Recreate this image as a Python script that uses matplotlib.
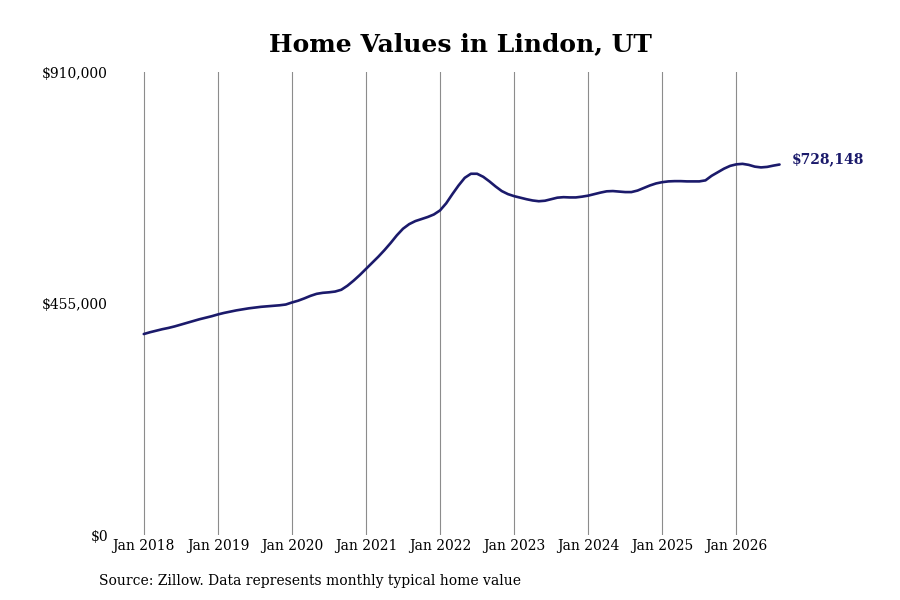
import numpy as np
from matplotlib import pyplot as plt

# typical home value, monthly, Jan 2018 .. Aug 2026
values_2018 = [395000, 398500, 401500, 404500, 407000, 410000, 413500, 417000, 420500, 424000, 427000, 430000]
values_2019 = [433500, 436500, 439000, 441500, 443500, 445500, 447000, 448500, 449500, 450500, 451500, 453000]
values_2020 = [457000, 460500, 465000, 470000, 474000, 476000, 477000, 478500, 482000, 490000, 500000, 511000]
values_2021 = [523000, 535000, 547000, 560000, 574000, 589000, 602000, 611000, 617000, 621000, 625000, 630000]
values_2022 = [638000, 652000, 670000, 687000, 702000, 710000, 710000, 704000, 695000, 685000, 676000, 670000]
values_2023 = [666000, 663000, 660000, 657500, 656000, 657000, 660000, 663000, 664000, 663500, 663500, 665000]
values_2024 = [667000, 670000, 673000, 675500, 676000, 675000, 674000, 674000, 677000, 682000, 687000, 691000]
values_2025 = [693500, 695000, 695500, 695500, 695000, 695000, 695000, 697000, 706000, 713000, 720000, 725500]
values_2026 = [728500, 729500, 727500, 724000, 722500, 723500, 726000, 728148]

values = (values_2018 + values_2019 + values_2020 + values_2021 + values_2022 +
          values_2023 + values_2024 + values_2025 + values_2026)
months = np.arange(len(values))

tick_labels = ['Jan 2018', 'Jan 2019', 'Jan 2020', 'Jan 2021', 'Jan 2022',
               'Jan 2023', 'Jan 2024', 'Jan 2025', 'Jan 2026']
y_ticks = [0, 455000, 910000]
y_labels = ['$0', '$455,000', '$910,000']

line_color = '#1b1a6b'

plt.rcParams['font.family'] = 'DejaVu Serif'

fig = plt.figure(figsize=(9, 6), dpi=100)
ax = fig.add_axes([0.133, 0.1083, 0.74, 0.7717])

ax.plot(months, values, color=line_color, linewidth=1.9, solid_capstyle='round')

ax.set_xlim(-3.9, 104)
ax.set_ylim(0, 910000)
ax.set_xticks(np.arange(len(tick_labels)) * 12)
ax.set_xticklabels(tick_labels, fontsize=10)
ax.set_yticks(y_ticks)
ax.set_yticklabels(y_labels, fontsize=10)
ax.tick_params(axis='both', length=0)
ax.tick_params(axis='y', pad=8.5)
ax.tick_params(axis='x', pad=3)
ax.grid(axis='x', color='#8c8c8c', linewidth=0.8)
ax.set_axisbelow(True)
for s in ax.spines.values():
    s.set_visible(False)

ax.annotate('$%s' % format(values[-1], ','), xy=(months[-1], values[-1]),
            xytext=(9, 3.5), textcoords='offset points', va='center', ha='left',
            fontsize=10, fontweight='bold', color=line_color, annotation_clip=False)

fig.text(0.512, 0.927, 'Home Values in Lindon, UT', ha='center', va='center',
         fontsize=18, fontweight='bold')
fig.text(0.11, 0.032, 'Source: Zillow. Data represents monthly typical home value',
         ha='left', va='center', fontsize=10)

fig.savefig('out.png', dpi=100)
